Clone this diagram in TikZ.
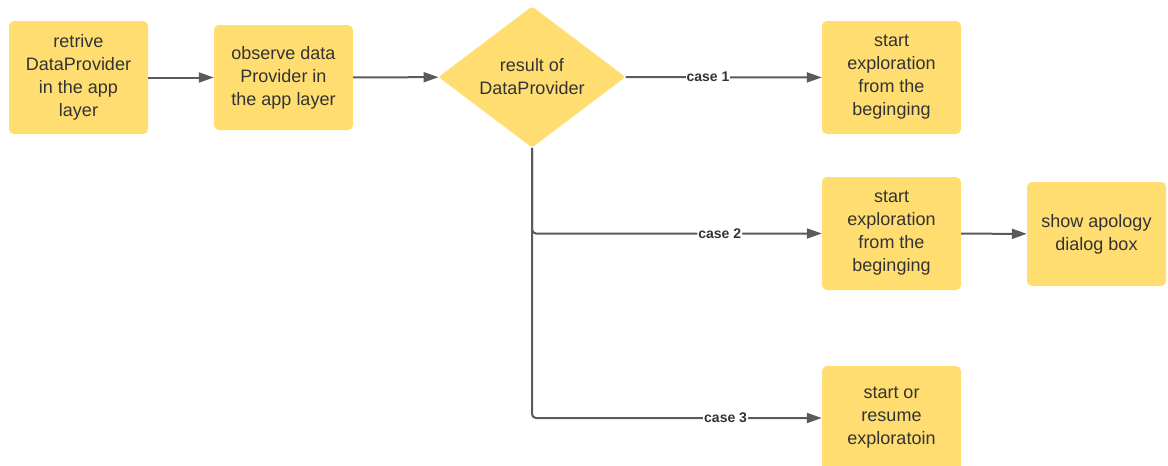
\documentclass[tikz,border=0pt]{standalone}
\usepackage{fontspec}
\setmainfont{Liberation Sans}
\usetikzlibrary{shapes.geometric,arrows.meta}
\definecolor{boxfill}{HTML}{FFDD71}
\definecolor{inktext}{HTML}{333333}
\definecolor{wire}{HTML}{5A5A5A}
\tikzset{
  stepbox/.style={rectangle, rounded corners=5pt, fill=boxfill, draw=none,
    minimum width=139pt, inner sep=0pt, align=center, text=inktext,
    font=\fontsize{18}{23}\selectfont},
  choice/.style={diamond, rounded corners=3pt, fill=boxfill, draw=none,
    minimum width=187pt, minimum height=140pt, inner sep=0pt, align=center,
    text=inktext, font=\fontsize{18}{23}\selectfont},
  flow/.style={draw=wire, line width=2pt, -{Triangle[length=15pt,width=10pt]}},
  caselabel/.style={fill=white, inner sep=1pt, text=inktext,
    font=\fontsize{14}{16}\selectfont\bfseries}
}
\begin{document}
\begin{tikzpicture}[x=1pt,y=-1pt]
  \useasboundingbox (0,0) rectangle (1168,466);

  \node[stepbox, minimum height=113pt] (retrieve) at (78.5,77.5)
    {retrive\\DataProvider\\in the app\\layer};
  \node[stepbox, minimum height=105pt] (observe) at (283.5,77.5)
    {observe data\\Provider in\\the app layer};
  \node[choice] (result) at (532,77) {result of\\DataProvider};
  \node[stepbox, minimum height=113pt] (case1) at (891.5,77.5)
    {start\\exploration\\from the\\beginging};
  \node[stepbox, minimum height=113pt] (case2) at (891.5,233.5)
    {start\\exploration\\from the\\beginging};
  \node[stepbox, minimum height=104pt] (apology) at (1096.5,234)
    {show apology\\dialog box};
  \node[stepbox, minimum height=104pt] (case3) at (891.5,418)
    {start or\\resume\\exploratoin};

  \draw[flow] (retrieve) -- (observe);
  \draw[flow] (observe) -- (result);
  \draw[flow] (result) -- node[caselabel, pos=0.42] {case 1} (case1);
  \draw[flow, rounded corners=4pt] (result.south) |- node[caselabel, pos=0.824] {case 2} (case2);
  \draw[flow, rounded corners=4pt] (result.south) |- node[caselabel, pos=0.834] {case 3} (case3.west);
  \draw[flow] (case2) -- (apology);
\end{tikzpicture}
\end{document}
